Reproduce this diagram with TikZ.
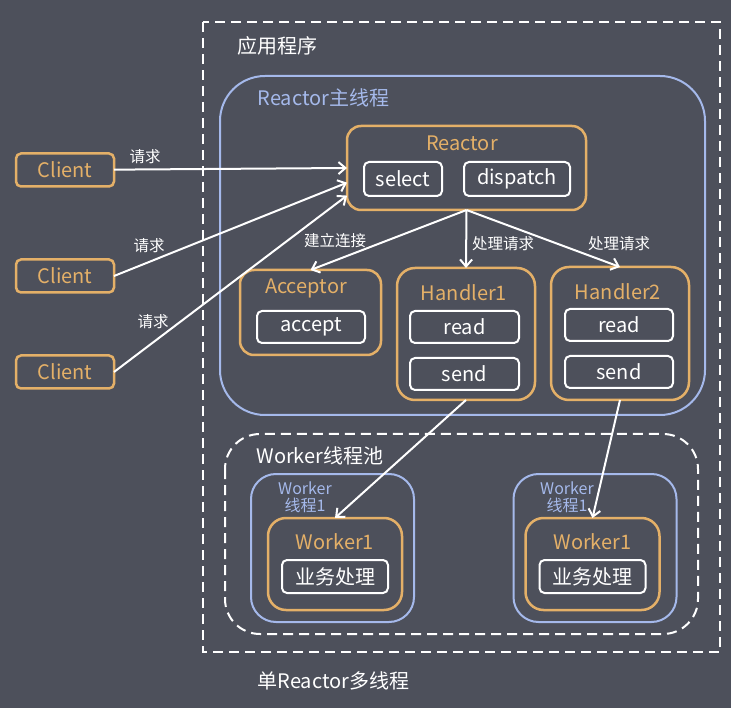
\documentclass[tikz,border=0pt]{standalone}
\usepackage{fontspec}
\setmainfont{Noto Sans CJK SC}
\usetikzlibrary{arrows.meta}
\definecolor{bgcol}{RGB}{77,80,91}
\definecolor{ocol}{RGB}{228,176,104}
\definecolor{bcol}{RGB}{165,185,235}
\tikzset{
  obox/.style={draw=ocol,line width=2.5pt,rounded corners=14pt,inner sep=0pt,outer sep=0pt},
  wbox/.style={draw=white,line width=2pt,rounded corners=5pt,inner sep=0pt,outer sep=0pt,
    text=white,font=\fontsize{20}{20}\selectfont},
  gbox/.style={draw=bcol,line width=2pt,inner sep=0pt,outer sep=0pt},
  dbox/.style={draw=white,line width=2pt,dash pattern=on 10pt off 6pt},
  otitle/.style={text=ocol,font=\fontsize{20}{20}\selectfont},
  big/.style={anchor=west,font=\fontsize{20}{20}\selectfont},
  req/.style={text=white,font=\fontsize{15.5}{15.5}\selectfont},
  link/.style={draw=white,line width=2pt,-{Straight Barb[length=7pt,width=12pt,line width=2pt]}},
}
\begin{document}
\begin{tikzpicture}[x=1pt,y=-1pt]
  \fill[bgcol] (0,0) rectangle (731,708);
  \useasboundingbox (0,0) rectangle (731,708);

  % outer frame
  \draw[dbox] (203,22) rectangle (720,652);
  \node[big,text=white] (app) at (234,46) {应用程序};
  \node[big,text=white] (caption) at (254,681) {单Reactor多线程};

  % reactor thread
  \node[gbox,rounded corners=45pt,minimum width=485pt,minimum height=339pt] (main) at (462.5,245.5) {};
  \node[big,text=bcol] (maintitle) at (254,98) {Reactor主线程};

  \node[obox,minimum width=239pt,minimum height=84pt] (reactor) at (466.5,168) {};
  \node[otitle] (reactortitle) at (462,143) {Reactor};
  \node[wbox,minimum width=78pt,minimum height=34pt] (select) at (403,179) {select};
  \node[wbox,minimum width=106pt,minimum height=34pt] (dispatch) at (517,179) {dispatch};

  \node[obox,minimum width=141pt,minimum height=85pt] (acceptor) at (310.5,312.5) {};
  \node[otitle] (acceptortitle) at (306,288) {Acceptor};
  \node[wbox,minimum width=108pt,minimum height=32pt] (accept) at (311,327) {accept};

  \node[obox,rounded corners=18pt,minimum width=138pt,minimum height=132pt] (handler1) at (466,334) {};
  \node[otitle] (h1title) at (464,293) {Handler1};
  \node[wbox,minimum width=109pt,minimum height=32pt] (read1) at (464.5,327) {read};
  \node[wbox,minimum width=109pt,minimum height=32pt] (send1) at (464.5,374) {send};

  \node[obox,rounded corners=18pt,minimum width=138pt,minimum height=133pt] (handler2) at (620,333.5) {};
  \node[otitle] (h2title) at (618,292) {Handler2};
  \node[wbox,minimum width=108pt,minimum height=32pt] (read2) at (619,325) {read};
  \node[wbox,minimum width=108pt,minimum height=32pt] (send2) at (619,372) {send};

  % clients
  \foreach \n/\y in {c1/170,c2/276,c3/372}
    \node[obox,rounded corners=5pt,minimum width=98pt,minimum height=33pt,text=ocol,
      font=\fontsize{20}{20}\selectfont] (\n) at (65,\y) {Client};

  % worker pool
  \draw[dbox,rounded corners=35pt] (225,434) rectangle (698,634);
  \node[big,text=white] (pooltitle) at (253,456) {Worker线程池};

  \foreach \n/\x/\ox in {1/332.5/335,2/595/592.5}{
    \node[gbox,rounded corners=25pt,minimum width=163pt,minimum height=148pt] (g\n) at (\x,548) {};
    \node[obox,rounded corners=18pt,minimum width=134pt,minimum height=92pt] (w\n) at (\ox,564) {};
    \node[otitle] (wt\n) at (\ox,542) {Worker1};
    \node[wbox,minimum width=106pt,minimum height=33pt] (job\n) at (\ox,576.5) {业务处理};
  }
  \node[text=bcol,align=center,font=\fontsize{16}{17}\selectfont,inner sep=0pt] (gl1) at (305,497) {Worker\\线程1};
  \node[text=bcol,align=center,font=\fontsize{16}{17}\selectfont,inner sep=0pt] (gl2) at (567,497) {Worker\\线程1};

  % requests
  \draw[link] (c1) -- (reactor.west);
  \draw[link] (c2.east) -- (reactor.187);
  \draw[link] (c3.east) -- (reactor.193);
  \node[req] (r1) at (145,157) {请求};
  \node[req] (r2) at (149,246) {请求};
  \node[req] (r3) at (153,322) {请求};

  \draw[link] (reactor.south) -- (acceptor.north);
  \draw[link] (reactor.south) -- (handler1.north);
  \draw[link] (reactor.south) -- (handler2.north);
  \node[req] (l1) at (335,241) {建立连接};
  \node[req] (l2) at (503,244) {处理请求};
  \node[req] (l3) at (619,244) {处理请求};

  \draw[link] (handler1.south) -- (w1.north);
  \draw[link] (handler2.south) -- (w2.north);
\end{tikzpicture}
\end{document}
